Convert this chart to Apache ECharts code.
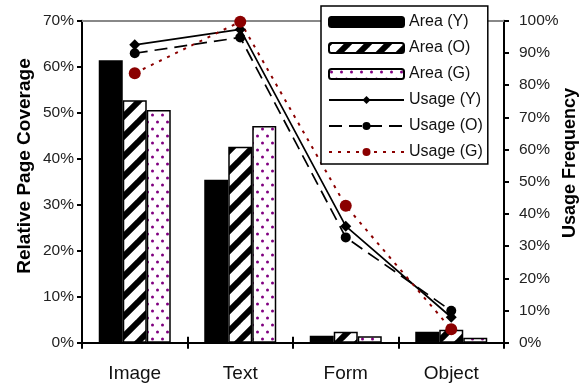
<!DOCTYPE html>
<html><head><meta charset="utf-8">
<script src="https://cdn.jsdelivr.net/npm/echarts@6/dist/echarts.min.js"></script>
<style>html,body{margin:0;padding:0;background:#fff}#c{width:585px;height:387px}</style>
</head><body><div id="c"></div>
<script>
const categories = ['Image', 'Text', 'Form', 'Object'];
const areaY = [0.614, 0.354, 0.015, 0.024];
const areaO = [0.527, 0.426, 0.024, 0.028];
const areaG = [0.506, 0.471, 0.014, 0.011];
const usageY = [0.925, 0.973, 0.362, 0.079];
const usageO = [0.899, 0.948, 0.327, 0.099];
const usageG = [0.837, 0.997, 0.425, 0.042];
const leftTitle = 'Relative Page Coverage';
const rightTitle = 'Usage Frequency';

function hatch() {
  const s = 20, c = document.createElement('canvas');
  c.width = s; c.height = s;
  const g = c.getContext('2d');
  g.fillStyle = '#fff'; g.fillRect(0, 0, s, s);
  g.strokeStyle = '#000'; g.lineWidth = 6;
  for (const k of [-s, 0, s]) {
    g.beginPath(); g.moveTo(k - 2, s + 2); g.lineTo(k + s + 2, -2); g.stroke();
  }
  return c;
}
function dots() {
  const w = 10, h = 14, c = document.createElement('canvas');
  c.width = w; c.height = h;
  const g = c.getContext('2d');
  g.fillStyle = '#fff'; g.fillRect(0, 0, w, h);
  g.fillStyle = '#800080';
  g.beginPath(); g.arc(2.5, 3, 1.5, 0, Math.PI * 2); g.fill();
  g.beginPath(); g.arc(7.5, 10, 1.5, 0, Math.PI * 2); g.fill();
  return c;
}
const pct = v => Math.round(v * 100) + '%';
const chart = echarts.init(document.getElementById('c'));
const font = 'Liberation Sans, Arial, sans-serif';
chart.setOption({
  animation: false,
  textStyle: { fontFamily: font },
  grid: { left: 82, right: 81, top: 20.7, bottom: 44.3, containLabel: false },
  legend: {
    orient: 'vertical', left: 321, top: 6,
    padding: [8, 5, 4, 7], itemGap: 10, itemWidth: 75, itemHeight: 10,
    backgroundColor: '#fff', borderColor: '#000', borderWidth: 1.5,
    textStyle: { fontFamily: font, fontSize: 16, color: '#111' },
    data: ['Area (Y)', 'Area (O)', 'Area (G)', 'Usage (Y)', 'Usage (O)', 'Usage (G)']
  },
  graphic: [
    { type: 'text', x: 25, y: 166, rotation: Math.PI / 2,
      style: { text: leftTitle, fill: '#000', font: 'bold 19px ' + font, align: 'center', verticalAlign: 'middle' } },
    { type: 'text', x: 570, y: 163, rotation: Math.PI / 2,
      style: { text: rightTitle, fill: '#000', font: 'bold 18px ' + font, align: 'center', verticalAlign: 'middle' } }
  ],
  xAxis: [
    { type: 'category', data: categories, position: 'bottom',
      axisLine: { lineStyle: { color: '#000', width: 2 } },
      axisTick: { show: true, length: 6, lineStyle: { color: '#000', width: 2 } },
      axisLabel: { fontSize: 19, color: '#111', margin: 22, fontFamily: font } },
    { type: 'category', data: categories, position: 'bottom', gridIndex: 0,
      axisLine: { show: false },
      axisTick: { show: true, inside: true, length: 6, lineStyle: { color: '#000', width: 2 } },
      axisLabel: { show: false } },
    { type: 'category', data: categories, position: 'top',
      axisLine: { lineStyle: { color: '#888', width: 2 } },
      axisTick: { show: false }, axisLabel: { show: false } }
  ],
  yAxis: [
    { type: 'value', min: 0, max: 0.7, interval: 0.1, position: 'left',
      axisLine: { show: true, lineStyle: { color: '#000', width: 2 } },
      axisTick: { show: true, length: 5, lineStyle: { color: '#000', width: 2 } },
      axisLabel: { formatter: pct, fontSize: 15.5, color: '#222', margin: 8, fontFamily: font },
      splitLine: { show: false } },
    { type: 'value', min: 0, max: 1, interval: 0.1, position: 'right',
      axisLine: { show: true, lineStyle: { color: '#000', width: 2 } },
      axisTick: { show: true, length: 5, lineStyle: { color: '#000', width: 2 } },
      axisLabel: { formatter: pct, fontSize: 15.5, color: '#222', margin: 15, fontFamily: font },
      splitLine: { show: false } }
  ],
  series: [
    { name: 'Area (Y)', type: 'bar', data: areaY, barWidth: 24, barGap: '0%',
      itemStyle: { color: '#000', borderColor: '#000', borderWidth: 1.5 } },
    { name: 'Area (O)', type: 'bar', data: areaO, barWidth: 24, barGap: '0%',
      itemStyle: { color: { image: hatch(), repeat: 'repeat' }, borderColor: '#000', borderWidth: 1.5 } },
    { name: 'Area (G)', type: 'bar', data: areaG, barWidth: 24, barGap: '0%',
      itemStyle: { color: { image: dots(), repeat: 'repeat' }, borderColor: '#000', borderWidth: 1.5 } },
    { name: 'Usage (Y)', type: 'line', yAxisIndex: 1, data: usageY,
      symbol: 'diamond', symbolSize: 11,
      lineStyle: { color: '#000', width: 1.7, type: 'solid' },
      itemStyle: { color: '#000' } },
    { name: 'Usage (O)', type: 'line', yAxisIndex: 1, data: usageO,
      symbol: 'circle', symbolSize: 10,
      lineStyle: { color: '#000', width: 1.7, type: [13, 7] },
      itemStyle: { color: '#000' } },
    { name: 'Usage (G)', type: 'line', yAxisIndex: 1, data: usageG,
      symbol: 'circle', symbolSize: 12,
      lineStyle: { color: '#8b0000', width: 2, type: [3, 6] },
      itemStyle: { color: '#8b0000' } }
  ]
});
</script></body></html>
